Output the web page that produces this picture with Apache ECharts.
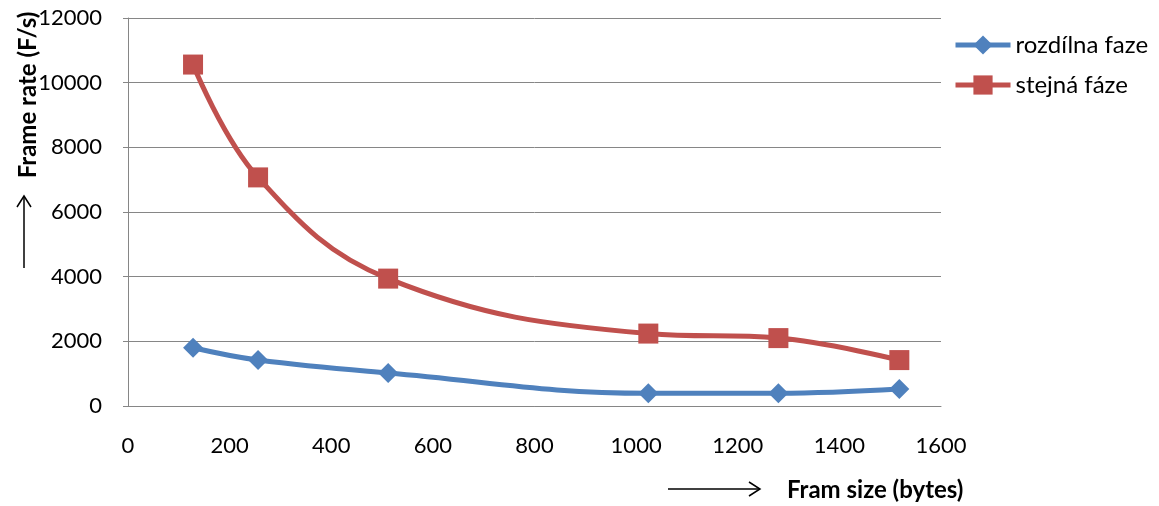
<!DOCTYPE html>
<html>
<head>
<meta charset="utf-8">
<script src="https://cdn.jsdelivr.net/npm/echarts@6/dist/echarts.min.js"></script>
<style>
html,body{margin:0;padding:0;background:#fff;}
#chart{width:1159px;height:506px;}
</style>
</head>
<body>
<div id="chart"></div>
<script>
// Data
var frameSizes = [128, 256, 512, 1024, 1280, 1518];
var rozdilnaFaze = [1800, 1420, 1020, 395, 395, 525];
var stejnaFaze = [10560, 7070, 3940, 2240, 2100, 1420];
var seriesNames = ['rozdílna faze', 'stejná fáze'];
var xTitle = 'Fram size (bytes)';
var yTitle = 'Frame rate (F/s)';

function pairs(xs, ys) { return xs.map(function (x, i) { return [x, ys[i]]; }); }

var FONT = 'Lato, "Open Sans", sans-serif';
var chart = echarts.init(document.getElementById('chart'), null, {renderer: 'canvas'});
chart.setOption({
  animation: false,
  backgroundColor: '#ffffff',
  grid: {left: 128, right: 218, top: 18, bottom: 100, containLabel: false},
  legend: {
    left: 953, top: 33, padding: 0, orient: 'vertical', itemWidth: 55, itemHeight: 24, itemGap: 16,
    lineStyle: {width: 5},
    textStyle: {fontFamily: FONT, fontSize: 24, color: '#000'},
    data: seriesNames
  },
  xAxis: {
    type: 'value', min: 0, max: 1600, interval: 200,
    axisLine: {show: true, lineStyle: {color: '#868686', width: 1}},
    axisTick: {show: false},
    splitLine: {show: false},
    axisLabel: {fontFamily: FONT, fontSize: 22, color: '#000', margin: 29, formatter: function (v) { return String(v); }}
  },
  yAxis: {
    type: 'value', min: 0, max: 12000, interval: 2000,
    axisLine: {show: true, lineStyle: {color: '#868686', width: 1}},
    axisTick: {show: true, length: 5, inside: false, lineStyle: {color: '#868686'}},
    splitLine: {show: true, lineStyle: {color: '#868686', width: 1}},
    axisLabel: {fontFamily: FONT, fontSize: 22, color: '#000', margin: 26, formatter: function (v) { return String(v); }}
  },
  series: [
    {
      name: seriesNames[0], type: 'line', smooth: 0.4,
      data: pairs(frameSizes, rozdilnaFaze),
      symbol: 'diamond', symbolSize: 20,
      lineStyle: {color: '#4F81BD', width: 5},
      itemStyle: {color: '#4F81BD'}
    },
    {
      name: seriesNames[1], type: 'line', smooth: 0.4,
      data: pairs(frameSizes, stejnaFaze),
      symbol: 'rect', symbolSize: 20,
      lineStyle: {color: '#C0504D', width: 5},
      itemStyle: {color: '#C0504D'}
    }
  ],
  graphic: [
    {type: 'text', x: 28, y: 95, rotation: Math.PI / 2,
     style: {text: yTitle, font: 'bold 24px ' + FONT, fill: '#000', textAlign: 'center', textVerticalAlign: 'middle'}},
    {type: 'line', shape: {x1: 24, y1: 268, x2: 24, y2: 196}, style: {stroke: '#000', lineWidth: 1.5}},
    {type: 'polyline', shape: {points: [[17, 207], [24, 196], [31, 207]]}, style: {stroke: '#000', lineWidth: 1.5, fill: null}},
    {type: 'text', x: 787, y: 490,
     style: {text: xTitle, font: 'bold 24px ' + FONT, fill: '#000', textAlign: 'left', textVerticalAlign: 'middle'}},
    {type: 'line', shape: {x1: 668, y1: 489, x2: 760, y2: 489}, style: {stroke: '#000', lineWidth: 1.5}},
    {type: 'polyline', shape: {points: [[749, 482], [760, 489], [749, 496]]}, style: {stroke: '#000', lineWidth: 1.5, fill: null}}
  ]
});
</script>
</body>
</html>
